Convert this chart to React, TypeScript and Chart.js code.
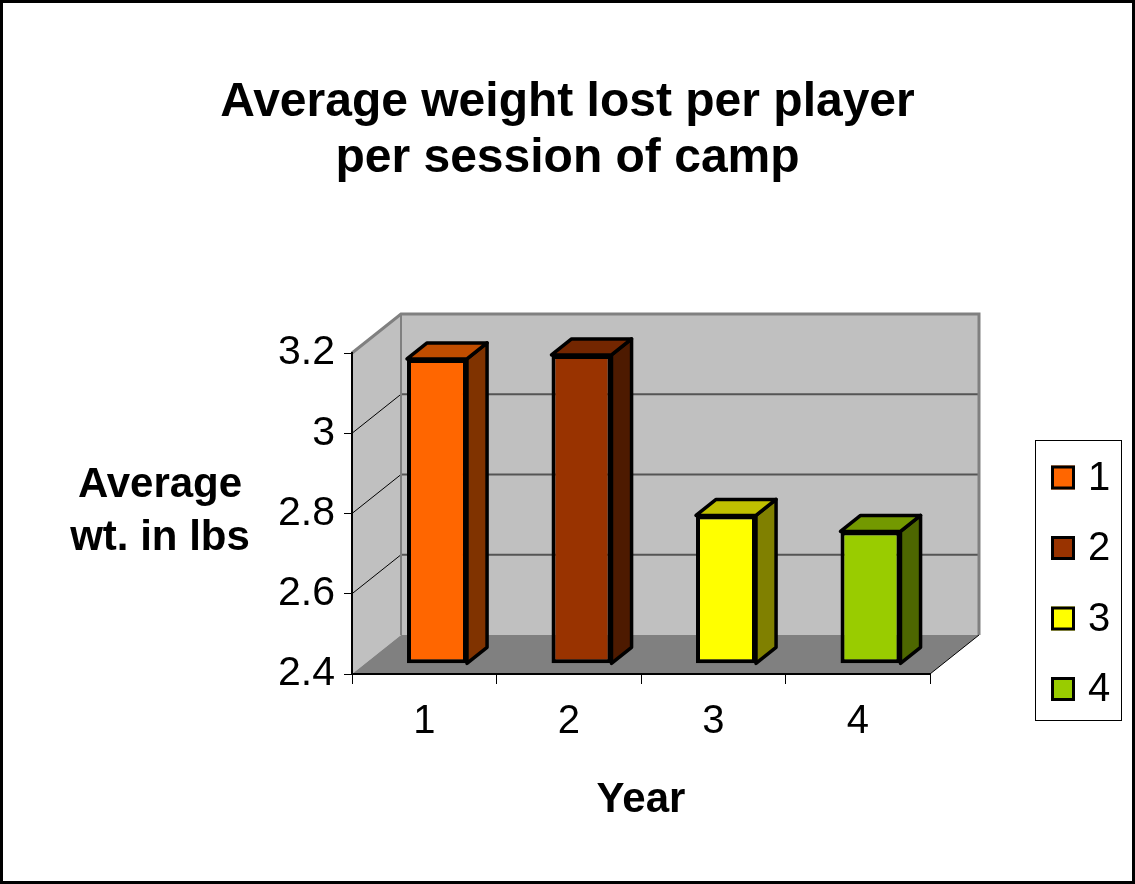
import React, { useEffect, useRef } from 'react';
import { Chart, registerables } from 'chart.js';

Chart.register(...registerables);

// ---- data ----
const categories = ['1', '2', '3', '4'];
const values = [3.16, 3.17, 2.77, 2.73];
const yTickValues = [2.4, 2.6, 2.8, 3.0, 3.2];
const yTickLabels = ['2.4', '2.6', '2.8', '3', '3.2'];
const legendLabels = ['1', '2', '3', '4'];
const frontColors = ['#FF6600', '#993300', '#FFFF00', '#99CC00'];
const topColors = ['#C04D00', '#732600', '#C0C000', '#739900'];
const sideColors = ['#803300', '#4D1A00', '#808000', '#4D6600'];
const titleLines = ['Average weight lost per player', 'per session of camp'];
const yTitleLines = ['Average', 'wt. in lbs'];
const xTitle = 'Year';

// ---- style / geometry ----
const FONT = '"Liberation Sans", Arial, sans-serif';
const W = 1135;
const H = 884;
const DX = 49; // depth offset of back wall
const DY = -39;
const BAR_FRONT = 0.26; // bar front face depth fraction
const BAR_BACK = 0.67; // bar back face depth fraction

function poly(ctx: CanvasRenderingContext2D, pts: number[][], fill?: string, stroke?: string, lw = 1) {
  ctx.beginPath();
  ctx.moveTo(pts[0][0], pts[0][1]);
  for (let i = 1; i < pts.length; i++) ctx.lineTo(pts[i][0], pts[i][1]);
  ctx.closePath();
  if (fill) {
    ctx.fillStyle = fill;
    ctx.fill();
  }
  if (stroke) {
    ctx.strokeStyle = stroke;
    ctx.lineWidth = lw;
    ctx.stroke();
  }
}

function line(ctx: CanvasRenderingContext2D, x1: number, y1: number, x2: number, y2: number, color: string, lw: number) {
  ctx.beginPath();
  ctx.moveTo(x1, y1);
  ctx.lineTo(x2, y2);
  ctx.strokeStyle = color;
  ctx.lineWidth = lw;
  ctx.stroke();
}

const threeDPlugin = {
  id: 'threeD',
  beforeDraw(chart: any) {
    const { ctx, chartArea: a, scales } = chart;
    const y = scales.y;
    const L = a.left, R = a.right, T = a.top, B = a.bottom;
    ctx.save();
    ctx.fillStyle = '#FFFFFF';
    ctx.fillRect(0, 0, chart.width, chart.height);
    // back wall
    ctx.fillStyle = '#C0C0C0';
    ctx.fillRect(L + DX, T + DY, R - L, B - T);
    // left wall
    poly(ctx, [[L, T], [L + DX, T + DY], [L + DX, B + DY], [L, B]], '#C0C0C0');
    // floor
    poly(ctx, [[L, B], [L + DX, B + DY], [R + DX, B + DY], [R, B]], '#808080');
    // gridlines
    const min = yTickValues[0];
    const max = yTickValues[yTickValues.length - 1];
    for (const v of yTickValues) {
      if (v === min || v === max) continue;
      const py = y.getPixelForValue(v);
      line(ctx, L + DX, py + DY, R + DX, py + DY, '#555555', 2);
      line(ctx, L, py, L + DX, py + DY, '#000000', 1);
    }
    // wall edges
    ctx.lineJoin = 'miter';
    ctx.beginPath();
    ctx.moveTo(L, T);
    ctx.lineTo(L + DX, T + DY);
    ctx.lineTo(R + DX, T + DY);
    ctx.lineTo(R + DX, B + DY);
    ctx.strokeStyle = '#808080';
    ctx.lineWidth = 3;
    ctx.stroke();
    line(ctx, L + DX, T + DY, L + DX, B + DY, '#808080', 2);
    // floor right edge
    line(ctx, R, B, R + DX, B + DY, '#000000', 1);
    ctx.restore();
  },
  beforeDatasetsDraw(chart: any) {
    const { ctx } = chart;
    const meta = chart.getDatasetMeta(0);
    const ox = BAR_FRONT * DX, oy = BAR_FRONT * DY;
    const bdx = (BAR_BACK - BAR_FRONT) * DX, bdy = (BAR_BACK - BAR_FRONT) * DY;
    ctx.save();
    ctx.lineJoin = 'round';
    meta.data.forEach((bar: any, i: number) => {
      const p = bar.getProps(['x', 'y', 'base', 'width'], true);
      const xl = p.x - p.width / 2 + ox;
      const xr = p.x + p.width / 2 + ox;
      const yt = Math.min(p.y, p.base) + oy;
      const yb = Math.max(p.y, p.base) + oy;
      poly(ctx, [[xr, yt], [xr + bdx, yt + bdy], [xr + bdx, yb + bdy], [xr, yb]], sideColors[i], '#000', 3.5);
      poly(ctx, [[xl, yt], [xr, yt], [xr + bdx, yt + bdy], [xl + bdx, yt + bdy]], topColors[i], '#000', 3.5);
    });
    ctx.restore();
    ctx.save();
    ctx.translate(ox, oy);
  },
  afterDatasetsDraw(chart: any) {
    chart.ctx.restore();
  },
  afterDraw(chart: any) {
    const { ctx, chartArea: a } = chart;
    ctx.save();
    ctx.fillStyle = '#000';
    ctx.textAlign = 'center';
    ctx.textBaseline = 'alphabetic';
    // title
    ctx.font = `bold 48px ${FONT}`;
    ctx.fillText(titleLines[0], W / 2, 116);
    ctx.fillText(titleLines[1], W / 2, 172);
    // y title
    ctx.font = `bold 42px ${FONT}`;
    ctx.fillText(yTitleLines[0], 160, 497);
    ctx.fillText(yTitleLines[1], 160, 550);
    // x title
    ctx.fillText(xTitle, (a.left + a.right) / 2, 812);
    // legend
    ctx.strokeStyle = '#000';
    ctx.lineWidth = 1;
    ctx.strokeRect(1035.5, 440.5, 86, 280);
    ctx.font = `40px ${FONT}`;
    ctx.textAlign = 'left';
    ctx.textBaseline = 'middle';
    legendLabels.forEach((lab, i) => {
      const cy = 477.5 + i * 70.5;
      ctx.fillStyle = frontColors[i];
      ctx.fillRect(1051, cy - 12, 24, 24);
      ctx.strokeStyle = '#000';
      ctx.lineWidth = 3;
      ctx.strokeRect(1052.5, cy - 10.5, 21, 21);
      ctx.fillStyle = '#000';
      ctx.fillText(lab, 1088, cy + 1);
    });
    // outer frame
    ctx.strokeStyle = '#000';
    ctx.lineWidth = 3;
    ctx.strokeRect(1.5, 1.5, W - 3, H - 3);
    ctx.restore();
  },
};

export default function App() {
  const ref = useRef<HTMLCanvasElement | null>(null);
  useEffect(() => {
    document.body.style.margin = '0';
    if (!ref.current) return;
    Chart.defaults.font.family = FONT;
    Chart.defaults.color = '#000';
    const chart = new Chart(ref.current, {
      type: 'bar',
      data: {
        labels: categories,
        datasets: [
          {
            data: values,
            base: yTickValues[0],
            backgroundColor: frontColors,
            borderColor: '#000',
            borderWidth: 4,
            borderSkipped: false,
            categoryPercentage: 1,
            barPercentage: 0.415,
            clip: false as any,
          } as any,
        ],
      },
      options: {
        animation: false,
        responsive: false,
        devicePixelRatio: 1,
        layout: { padding: { left: 252, right: 205, top: 353, bottom: 110 } },
        plugins: { legend: { display: false }, title: { display: false }, tooltip: { enabled: false } },
        scales: {
          x: {
            afterFit: (s: any) => {
              s.height = 100;
            },
            grid: { offset: true, drawOnChartArea: false, drawTicks: true, tickLength: 10, color: '#000', lineWidth: 1 },
            border: { display: true, color: '#000', width: 2 },
            ticks: { font: { size: 40 }, padding: 14, color: '#000' },
          },
          y: {
            min: 2.4,
            max: 3.2,
            afterFit: (s: any) => {
              s.width = 100;
            },
            afterBuildTicks: (s: any) => {
              s.ticks = yTickValues.map((v) => ({ value: v }));
            },
            grid: { drawOnChartArea: false, drawTicks: true, tickLength: 8, color: '#000', lineWidth: 1 },
            border: { display: true, color: '#000', width: 2 },
            ticks: {
              font: { size: 41 },
              padding: 9,
              color: '#000',
              callback: (v: any) => {
                let best = 0;
                yTickValues.forEach((t, i) => {
                  if (Math.abs(t - v) < Math.abs(yTickValues[best] - v)) best = i;
                });
                return yTickLabels[best];
              },
            },
          },
        },
      },
      plugins: [threeDPlugin],
    });
    return () => chart.destroy();
  }, []);
  return (
    <div style={{ width: W, height: H, position: 'relative' }}>
      <canvas ref={ref} width={W} height={H} style={{ width: W, height: H, display: 'block' }} />
    </div>
  );
}
